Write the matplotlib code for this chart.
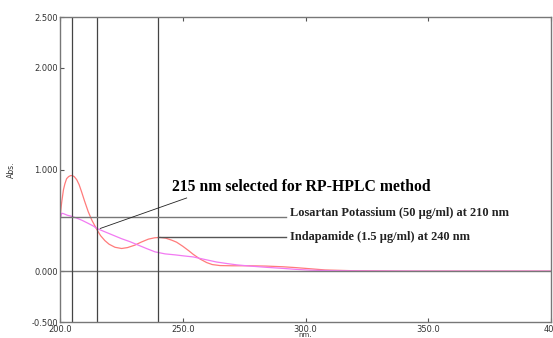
import numpy as np
import matplotlib.pyplot as plt

# spectra (nm, Abs.)
los_nm = [200, 200.7, 201.4, 202, 202.7, 203.5, 204.3, 205, 205.8, 206.8, 207.8, 208.8, 210, 211.5, 213, 215,
          216.5, 218.3, 220, 222.4, 225.1, 227.5, 230.5, 233, 236, 238.5, 240.7, 243, 245.5, 247.5, 250, 252.5,
          254.3, 257, 259.7, 262, 265.2, 270, 277, 284, 291, 296, 301.8, 308, 320, 340, 370, 400]
los_abs = [0.53, 0.68, 0.80, 0.86, 0.91, 0.93, 0.94, 0.94, 0.93, 0.90, 0.85, 0.78, 0.69, 0.585, 0.50, 0.41,
           0.35, 0.30, 0.265, 0.235, 0.223, 0.232, 0.256, 0.285, 0.315, 0.328, 0.332, 0.325, 0.305, 0.285, 0.245, 0.20,
           0.165, 0.12, 0.085, 0.065, 0.055, 0.053, 0.053, 0.05, 0.043, 0.035, 0.024, 0.012, 0.004, 0.0, 0.0, 0.0]
ind_nm = [200, 200.7, 201.5, 203, 204.7, 207, 209, 211.5, 213.5, 215, 218, 221, 225, 228.5, 231.9, 235, 238.7,
          242.8, 247, 250.5, 254.3, 259, 263.8, 268, 272, 277.4, 284, 291, 296, 301.8, 310, 325, 350, 400]
ind_abs = [0.50, 0.57, 0.565, 0.55, 0.54, 0.52, 0.50, 0.47, 0.445, 0.42, 0.39, 0.36, 0.32, 0.29, 0.256, 0.225, 0.19,
           0.17, 0.16, 0.15, 0.14, 0.115, 0.09, 0.075, 0.062, 0.05, 0.038, 0.027, 0.018, 0.01, 0.005, 0.002, 0.0, 0.0]

markers_nm = [205, 215, 240]
yticks = [2.5, 2.0, 1.0, 0.0, -0.5]
ytick_labels = ['2.500', '2.000', '1.000', '0.000', '-0.500']
xticks = [200, 250, 300, 350, 400]
xtick_labels = ['200.0', '250.0', '300.0', '350.0', '400']

fig = plt.figure(figsize=(5.53, 3.38), dpi=100)
ax = fig.add_axes([60/553, 16/338, (551-60)/553, (322-17)/338])

ax.plot(los_nm, los_abs, color='#ff7b7b', lw=0.9)
ax.plot(ind_nm, ind_abs, color='#f27af2', lw=0.9)

ax.axhline(0, color='#777777', lw=1)
for w in markers_nm:
    ax.axvline(w, color='#444444', lw=0.9)

# label lines
ax.plot([200, 292], [0.535, 0.535], color='#777777', lw=1)
ax.plot([240, 292], [0.335, 0.335], color='#555555', lw=1)
ax.plot([216.4, 251.6], [0.42, 0.72], color='#222222', lw=0.6)

serif = 'Liberation Serif'
ax.text(245.6, 0.83, '215 nm selected for RP-HPLC method', fontsize=11.3,
        fontweight='bold', family=serif, va='center', ha='left')
ax.text(293.5, 0.57, 'Losartan Potassium (50 µg/ml) at 210 nm', fontsize=8.9,
        fontweight='bold', family=serif, va='center', ha='left', color='#222222')
ax.text(293.5, 0.335, 'Indapamide (1.5 µg/ml) at 240 nm', fontsize=8.9,
        fontweight='bold', family=serif, va='center', ha='left', color='#222222')

ax.set_xlim(200, 400)
ax.set_ylim(-0.5, 2.5)
ax.set_yticks(yticks)
ax.set_yticklabels(ytick_labels)
ax.set_xticks(xticks)
ax.set_xticklabels(xtick_labels)
ax.tick_params(direction='in', length=3, width=0.8, color='#555555',
               labelsize=6, labelcolor='#333333', pad=1.5)
ax.tick_params(axis='x', top=True, pad=2.5)
for s in ax.spines.values():
    s.set_color('#777777')
    s.set_linewidth(1)
ax.set_ylabel('Abs.', fontsize=5.5, color='#333333', labelpad=11)
ax.set_xlabel('nm.', fontsize=5, color='#333333', labelpad=-1.5)

fig.savefig('out.png', dpi=100)
